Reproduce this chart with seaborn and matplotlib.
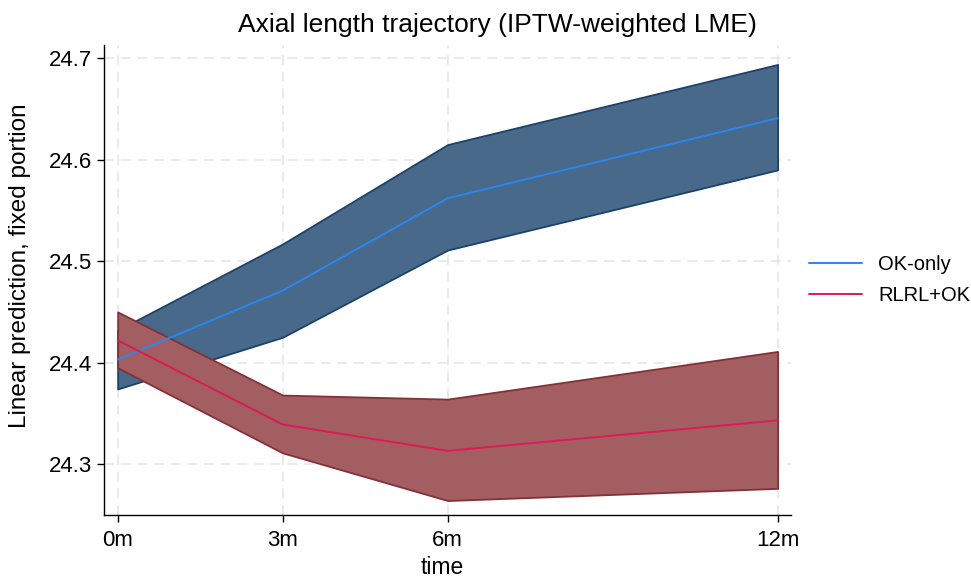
import numpy as np
import pandas as pd
import seaborn as sns
import matplotlib.pyplot as plt

# values
months = [0, 3, 6, 12]
month_labels = ["0m", "3m", "6m", "12m"]
ok_fit = [24.403, 24.471, 24.562, 24.641]
ok_lo = [24.374, 24.425, 24.511, 24.590]
ok_hi = [24.432, 24.517, 24.615, 24.694]
rl_fit = [24.422, 24.339, 24.313, 24.343]
rl_lo = [24.395, 24.311, 24.264, 24.276]
rl_hi = [24.450, 24.368, 24.364, 24.411]

df = pd.DataFrame({
    "time": months * 2,
    "pred": ok_fit + rl_fit,
    "group": ["OK-only"] * 4 + ["RLRL+OK"] * 4,
})

sns.set_style("white")
plt.rcParams["font.family"] = ["Liberation Sans", "DejaVu Sans"]
plt.rcParams["text.color"] = "black"
plt.rcParams["axes.labelcolor"] = "black"

fig = plt.figure(figsize=(9.71, 5.79), dpi=100)
ax = fig.add_axes([0.107, 0.111, 0.708, 0.811])

# CI bands
ax.fill_between(months, ok_lo, ok_hi, facecolor="#48698a", edgecolor="#1d4269",
                linewidth=1.3, zorder=2)
ax.fill_between(months, rl_lo, rl_hi, facecolor="#a35e61", edgecolor="#853039",
                linewidth=1.3, zorder=3)

sns.lineplot(data=df, x="time", y="pred", hue="group",
             palette={"OK-only": "#2a86f0", "RLRL+OK": "#dc1a55"},
             linewidth=1.4, ax=ax, zorder=4)

ax.set_xlim(-0.25, 12.25)
ax.set_ylim(24.25, 24.713)
ax.set_xticks(months)
ax.set_xticklabels(month_labels)
ax.set_yticks([24.3, 24.4, 24.5, 24.6, 24.7])
ax.set_yticklabels(["24.3", "24.4", "24.5", "24.6", "24.7"])

ax.grid(True, color="#e6e6e6", linestyle=(0, (6, 4)), linewidth=1.2, zorder=0)
ax.set_axisbelow(True)
for s in ["top", "right"]:
    ax.spines[s].set_visible(False)
for s in ["left", "bottom"]:
    ax.spines[s].set_color("black")
    ax.spines[s].set_linewidth(1.0)
ax.tick_params(axis="both", direction="out", length=5, width=1, colors="black",
               labelsize=16, left=True, bottom=True)
ax.tick_params(axis="x", pad=6)

ax.set_xlabel("time", fontsize=16.5)
ax.xaxis.set_label_coords(0.492, -0.087)
ax.set_ylabel("Linear prediction, fixed portion", fontsize=17.5)
ax.yaxis.set_label_coords(-0.106, 0.53)
fig.text(0.512, 0.957, "Axial length trajectory (IPTW-weighted LME)",
         fontsize=19, ha="center", va="center")

leg = ax.legend(loc="center left", bbox_to_anchor=(1.0, 0.50), frameon=False,
                fontsize=14.5, handlelength=2.6, labelspacing=0.6)
leg.set_title(None)

fig.savefig("out.png", dpi=100)
